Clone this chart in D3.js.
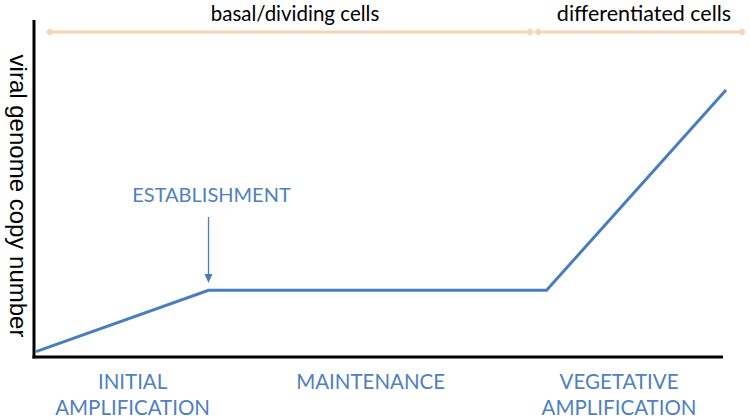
<!DOCTYPE html>
<html><head><meta charset="utf-8">
<script src="https://cdn.jsdelivr.net/npm/d3@7"></script>
<style>body{margin:0;background:#fff}svg{display:block}</style>
</head><body>
<svg id="c" width="750" height="420"></svg>
<script>
// data
const stageTime = [0, 25, 74, 100];
const copyNumber = [2, 25, 25, 100];
const phaseLabels = [["INITIAL","AMPLIFICATION"],["MAINTENANCE"],["VEGETATIVE","AMPLIFICATION"]];
const phaseCenters = [14, 48.5, 84.5];
const cellRanges = [["basal/dividing cells", 2, 71.6], ["differentiated cells", 72.8, 102.3]];
const establishmentAt = 25;
const yLabel = "viral genome copy number";

const svg = d3.select("#c");
const x = d3.scaleLinear().domain([0,100]).range([36,726]);
const y = d3.scaleLinear().domain([0,100]).range([357,90]);
const blue = "#4a7ebb", textBlue = "#4f81bd", peach = "#f9d3b2";

// axes
svg.append("line").attr("x1",34).attr("x2",34).attr("y1",20).attr("y2",358.5)
  .attr("stroke","#000").attr("stroke-width",3);
svg.append("line").attr("x1",32.5).attr("x2",723).attr("y1",357).attr("y2",357)
  .attr("stroke","#000").attr("stroke-width",3);

// y label
svg.append("text").attr("transform","translate(10,196) rotate(90)")
  .attr("text-anchor","middle").attr("font-family","Liberation Sans, Arial, sans-serif")
  .attr("font-size",24).attr("fill","#000").text(yLabel);

// line
const pts = stageTime.map((t,i)=>[t, copyNumber[i]]);
svg.append("path").datum(pts)
  .attr("d", d3.line().x(d=>x(d[0])).y(d=>y(d[1])))
  .attr("fill","none").attr("stroke",blue).attr("stroke-width",3).attr("stroke-linejoin","miter");

// establishment arrow
const ex = x(establishmentAt);
svg.append("line").attr("x1",ex).attr("x2",ex).attr("y1",217).attr("y2",276)
  .attr("stroke",blue).attr("stroke-width",1.3);
svg.append("path").attr("d",`M${ex-4},${274}L${ex+4},${274}L${ex},${283}Z`).attr("fill",blue);
svg.append("text").attr("x",ex+3).attr("y",202).attr("text-anchor","middle")
  .attr("font-family","Lato, sans-serif").attr("font-size",20).attr("fill",textBlue).text("ESTABLISHMENT");

// cell ranges
const ty = 32;
const topSizes = [20.5, 21.5];
cellRanges.forEach(([lab,a,b],i)=>{
  svg.append("line").attr("x1",x(a)).attr("x2",x(b)).attr("y1",ty).attr("y2",ty)
    .attr("stroke",peach).attr("stroke-width",3);
  [a,b].forEach(v=>{
    svg.append("path").attr("d",`M${x(v)-4},${ty}L${x(v)},${ty-4}L${x(v)+4},${ty}L${x(v)},${ty+4}Z`).attr("fill",peach);
  });
  svg.append("text").attr("x",i===0 ? 295 : 644).attr("y",21)
    .attr("text-anchor","middle").attr("font-family","Lato, sans-serif").attr("font-size",topSizes[i])
    .attr("fill","#000").text(lab);
});

// phase labels
phaseLabels.forEach((lines,i)=>{
  const t = svg.append("text").attr("x",x(phaseCenters[i])).attr("y",389)
    .attr("text-anchor","middle").attr("font-family","Lato, sans-serif").attr("font-size",20.5)
    .attr("fill",textBlue);
  lines.forEach((l,j)=>t.append("tspan").attr("x",x(phaseCenters[i])).attr("dy",j?26:0).text(l));
});
</script>
</body></html>
